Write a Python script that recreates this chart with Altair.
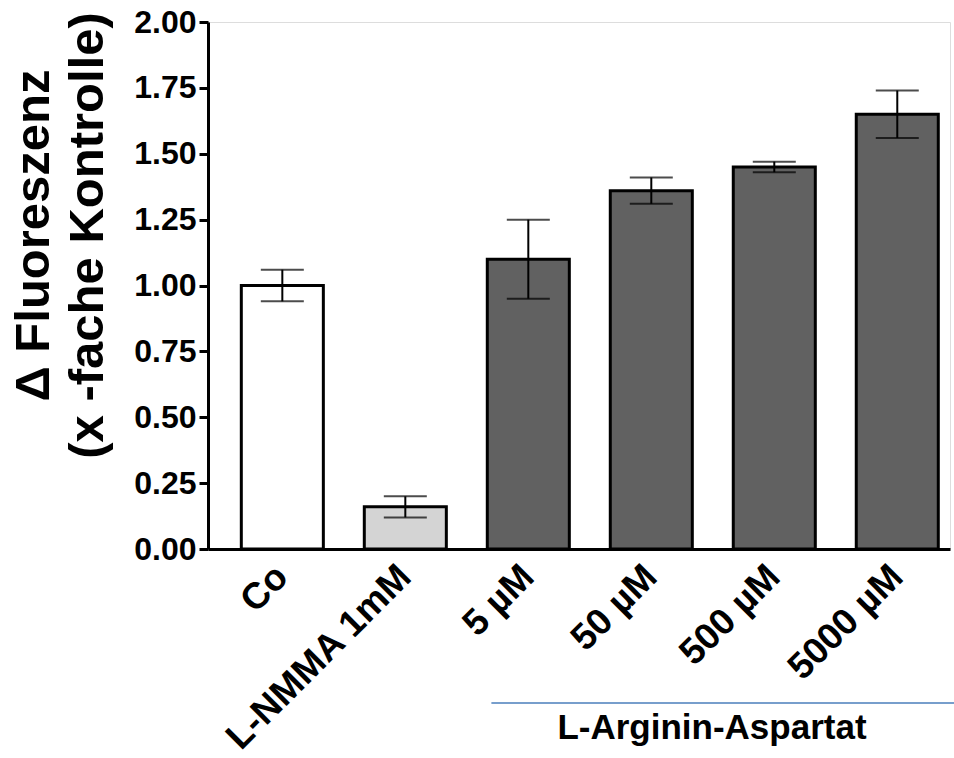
import altair as alt
import pandas as pd

categories = ["Co", "L-NMMA 1mM", "5 µM", "50 µM", "500 µM", "5000 µM"]
means = [1.00, 0.16, 1.10, 1.36, 1.45, 1.65]
errors = [0.06, 0.04, 0.15, 0.05, 0.02, 0.09]
fills = ["#ffffff", "#d4d4d4", "#616161", "#616161", "#616161", "#616161"]
y_ticks = [0, 0.25, 0.5, 0.75, 1.0, 1.25, 1.5, 1.75, 2.0]
group_label = "L-Arginin-Aspartat"
y_title = ["Δ Fluoreszenz", "(x -fache Kontrolle)"]

df = pd.DataFrame({
    "cat": categories,
    "mean": means,
    "lo": [m - e for m, e in zip(means, errors)],
    "hi": [m + e for m, e in zip(means, errors)],
    "fill": fills,
})

FONT = "Liberation Sans"

x_scale = alt.Scale(domain=categories, paddingInner=0.333, paddingOuter=0.183, align=0.74)
x_enc = alt.X(
    "cat:N",
    title=None,
    scale=x_scale,
    axis=alt.Axis(
        labelAngle=-45, labelAlign="right", labelBaseline="middle",
        labelFont=FONT, labelFontWeight="bold", labelFontSize=37, labelColor="black",
        labelPadding=22, ticks=False, domainColor="black", domainWidth=3, grid=False,
        labelLimit=400,
    ),
)
y_scale = alt.Scale(domain=[0, 2], nice=False)

base = alt.Chart(df)

bars = base.mark_bar(stroke="black", strokeWidth=3).encode(
    x=x_enc,
    y=alt.Y(
        "mean:Q", scale=y_scale, title=y_title,
        axis=alt.Axis(
            values=y_ticks, format=".2f", labelFont=FONT, labelFontWeight="bold",
            labelFontSize=32, labelColor="black", labelPadding=3,
            tickColor="black", tickWidth=3, tickSize=9, domainColor="black",
            domainWidth=3, grid=False,
            titleFont=FONT, titleFontWeight="bold", titleFontSize=49, titleColor="black",
            titleAngle=-90, titleX=-199, titleY=213, titleBaseline="top",
            titleAlign="center", titleLineHeight=54,
        ),
    ),
    fill=alt.Fill("fill:N", scale=None),
)

rule = base.mark_rule(color="black", strokeWidth=2).encode(
    x=alt.X("cat:N", scale=x_scale), y=alt.Y("lo:Q", scale=y_scale), y2="hi:Q"
)
cap_hi = base.mark_tick(color="black", thickness=2, size=43).encode(
    x=alt.X("cat:N", scale=x_scale), y=alt.Y("hi:Q", scale=y_scale)
)
cap_lo = base.mark_tick(color="black", thickness=2, size=43).encode(
    x=alt.X("cat:N", scale=x_scale), y=alt.Y("lo:Q", scale=y_scale)
)

grp = pd.DataFrame({"start": ["5 µM"], "label": [group_label]})
gline = alt.Chart(grp).mark_rule(color="#4a7ebb", strokeWidth=1.5).encode(
    x=alt.X("start:N", scale=x_scale, bandPosition=0.05),
    x2=alt.value(746),
    y=alt.value(681),
)
gtext = alt.Chart(grp).mark_text(
    font=FONT, fontWeight="bold", fontSize=35, color="black", align="center", baseline="alphabetic"
).encode(
    text="label:N",
    x=alt.value(504),
    y=alt.value(717),
)

chart = alt.layer(bars, rule, cap_hi, cap_lo, gline, gtext).properties(
    width=742, height=527,
    autosize=alt.AutoSizeParams(type="none"),
    padding={"left": 208, "top": 22, "right": 4, "bottom": 209},
).configure_view(stroke=None).configure(background="white")

chart.save("out.html", embed_options={"renderer": "svg", "actions": False})
